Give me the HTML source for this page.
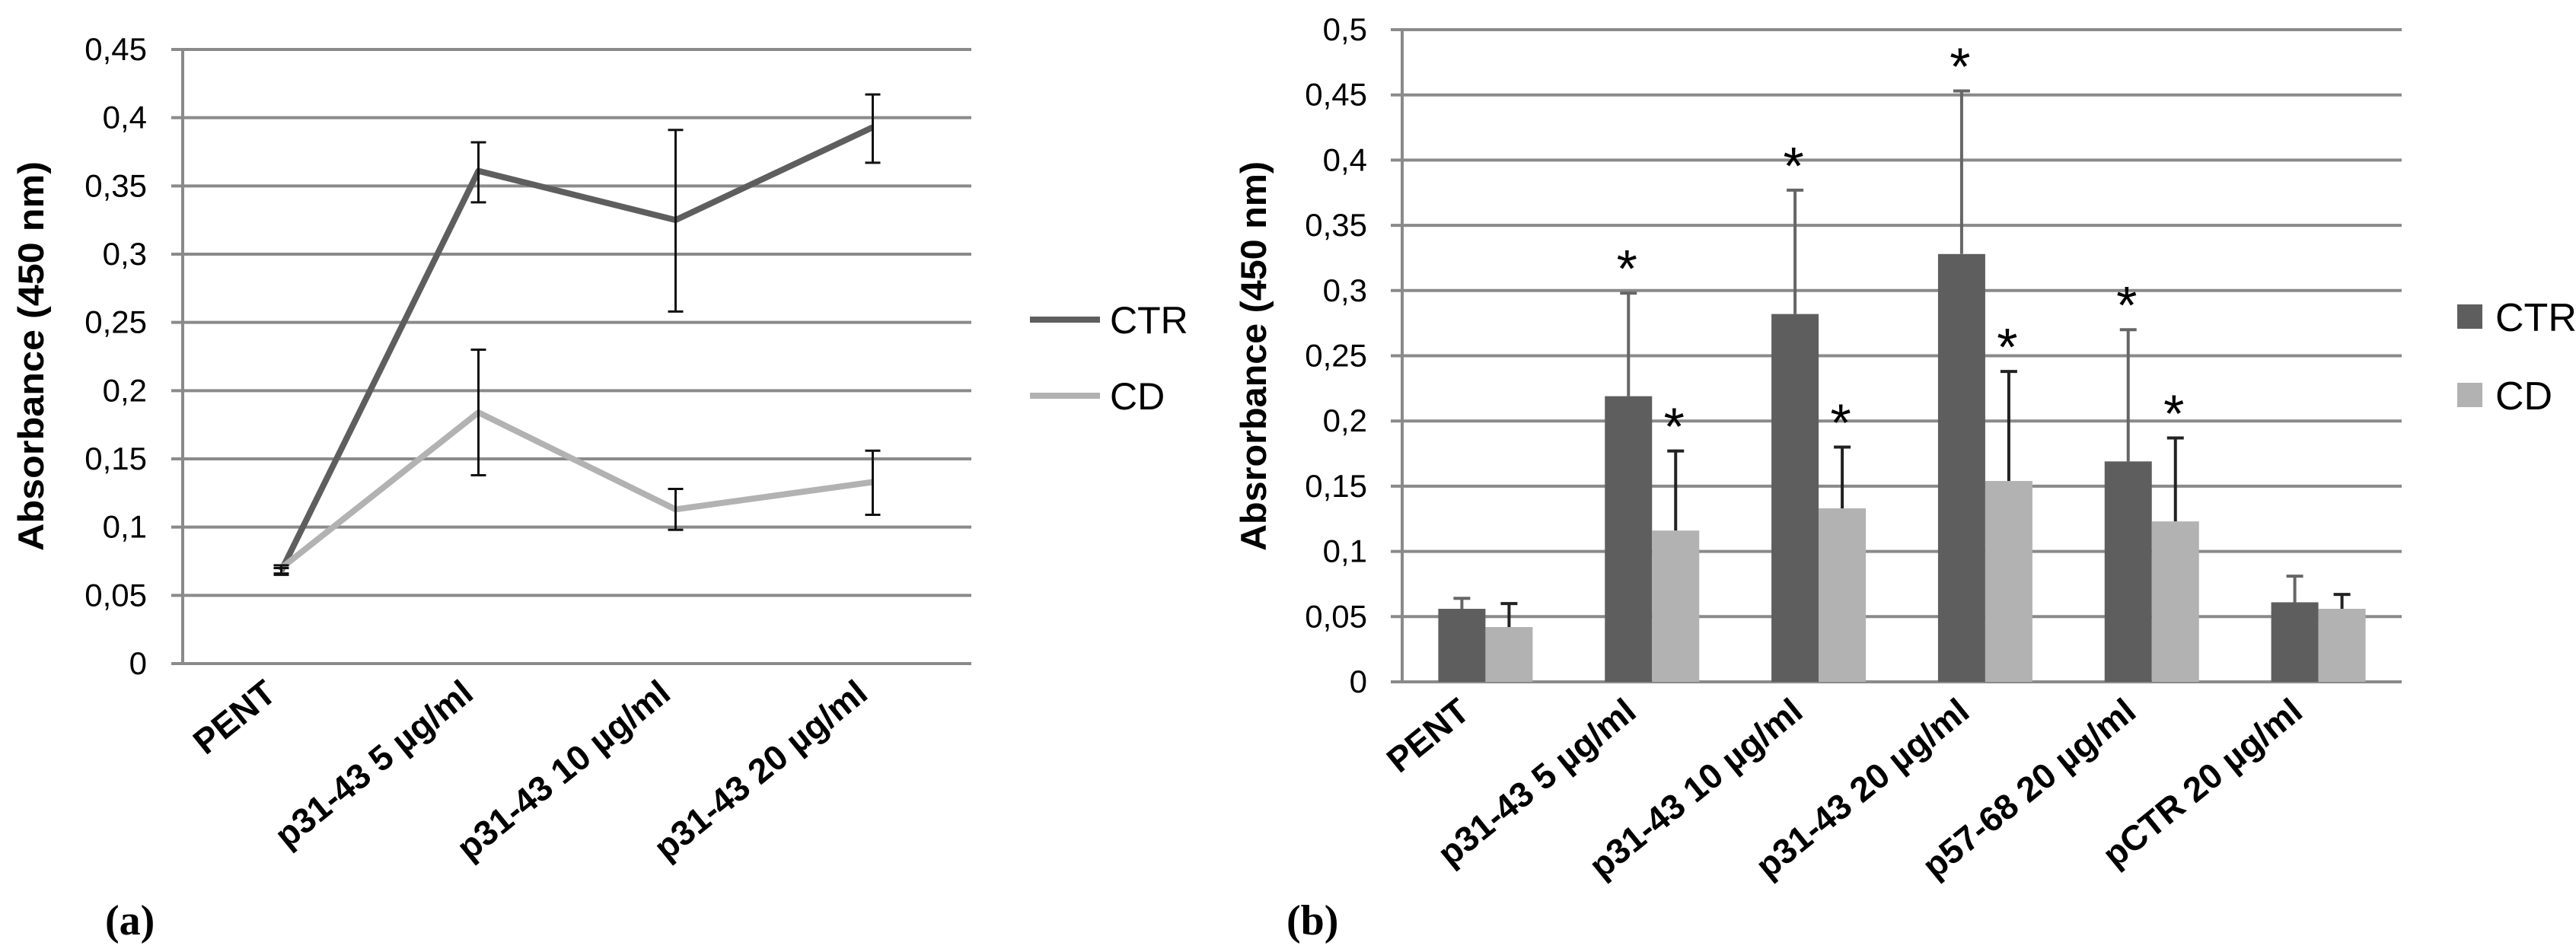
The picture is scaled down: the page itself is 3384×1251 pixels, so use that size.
<!DOCTYPE html>
<html><head><meta charset="utf-8"><style>
html,body{margin:0;padding:0;background:#fff;}
svg{display:block;font-family:"Liberation Sans",sans-serif;}
</style></head><body>
<svg id="s" width="3384" height="1251" viewBox="0 0 3384 1251" xmlns="http://www.w3.org/2000/svg"></svg>
<script>
const catsA = ["PENT","p31-43 5 µg/ml","p31-43 10 µg/ml","p31-43 20 µg/ml"];
const ctrA = [0.068,0.361,0.325,0.393];
const ctrAHi = [0.070,0.382,0.391,0.417];
const ctrALo = [0.065,0.338,0.258,0.367];
const cdA = [0.070,0.184,0.113,0.133];
const cdAHi = [0.072,0.230,0.128,0.156];
const cdALo = [0.066,0.138,0.098,0.109];
const ticksA = ["0","0,05","0,1","0,15","0,2","0,25","0,3","0,35","0,4","0,45"];

const catsB = ["PENT","p31-43 5 µg/ml","p31-43 10 µg/ml","p31-43 20 µg/ml","p57-68 20 µg/ml","pCTR 20 µg/ml"];
const ctrB = [0.056,0.219,0.282,0.328,0.169,0.061];
const ctrBErr = [0.064,0.298,0.377,0.453,0.270,0.081];
const cdB = [0.042,0.116,0.133,0.154,0.123,0.056];
const cdBErr = [0.060,0.177,0.180,0.238,0.187,0.067];
const starCtrB = [false,true,true,true,true,false];
const starCdB = [false,true,true,true,true,false];
const ticksB = ["0","0,05","0,1","0,15","0,2","0,25","0,3","0,35","0,4","0,45","0,5"];

const NS="http://www.w3.org/2000/svg";
const svg=document.getElementById('s');
function mk(tag,attrs,parent,text){const e=document.createElementNS(NS,tag);for(const k in attrs)e.setAttribute(k,attrs[k]);if(text!==undefined)e.textContent=text;(parent||svg).appendChild(e);return e;}
const CTRC="#5e5e5e", CDC="#b2b2b2", GRID="#8a8a8a";

// ---------- Chart A ----------
const A={x0:240,x1:1276,y0:872,y1:65,max:0.45};
const ay=v=>A.y0-(v/A.max)*(A.y0-A.y1);
const ax=i=>A.x0+(i+0.5)*(A.x1-A.x0)/catsA.length;
const gA=mk('g',{});


ticksA.forEach((t,i)=>{
  const v=i*0.05,y=ay(v);
  const l=mk('line',{x1:A.x0-15,x2:A.x1,y1:y,y2:y,stroke:GRID,'stroke-width':4},gA);
  
  
  const tx=mk('text',{x:193,y:y+14,'text-anchor':'end','font-size':42},gA,t);
  
  
});
const axA=mk('line',{x1:A.x0,x2:A.x0,y1:A.y1,y2:A.y0,stroke:GRID,'stroke-width':4},gA);


function lineSeries(vals,col,name){
  const p=mk('polyline',{points:vals.map((v,i)=>ax(i)+','+ay(v)).join(' '),fill:'none',stroke:col,'stroke-width':8,'stroke-linejoin':'round'},gA);
  
  
}
lineSeries(ctrA,CTRC,'ctr-line');
lineSeries(cdA,CDC,'cd-line');
function errA(hi,lo,name){
  hi.forEach((h,i)=>{
    const x=ax(i);
    const g=mk('g',{stroke:'#111','stroke-width':3},gA);
    
    
    mk('line',{x1:x,x2:x,y1:ay(h),y2:ay(lo[i])},g);
    mk('line',{x1:x-10,x2:x+10,y1:ay(h),y2:ay(h)},g);
    mk('line',{x1:x-10,x2:x+10,y1:ay(lo[i]),y2:ay(lo[i])},g);
  });
}
errA(ctrAHi,ctrALo,'ctr-error-bar');
errA(cdAHi,cdALo,'cd-error-bar');
catsA.forEach((c,i)=>{
  const x=ax(i)-4,y=A.y0+44;
  const t=mk('text',{x:x,y:y,'text-anchor':'end','font-size':46,'font-weight':'bold',transform:`rotate(-39 ${x} ${y})`},gA,c);
  
  
});
const ytA=mk('text',{x:0,y:0,'text-anchor':'middle','font-size':47,'font-weight':'bold',textLength:512,lengthAdjust:'spacingAndGlyphs',transform:'translate(57 468) rotate(-90)'},gA,'Absorbance (450 nm)');


const lgA=mk('g',{},gA);


mk('line',{x1:1353,x2:1445,y1:420,y2:420,stroke:CTRC,'stroke-width':8},lgA);
mk('text',{x:1458,y:438,'font-size':50},lgA,'CTR');
mk('line',{x1:1353,x2:1445,y1:520,y2:520,stroke:CDC,'stroke-width':8},lgA);
mk('text',{x:1458,y:538,'font-size':50},lgA,'CD');
const la=mk('text',{x:138,y:1228,'font-size':56,'font-weight':'bold','font-family':'Liberation Serif, serif'},gA,'(a)');



// ---------- Chart B ----------
const B={x0:1842,x1:3155,y0:896,y1:39,max:0.5};
const by=v=>B.y0-(v/B.max)*(B.y0-B.y1);
const cw=(B.x1-B.x0)/catsB.length;
const bc=i=>B.x0+(i+0.5)*cw;
const bw=62;
const gB=mk('g',{});


ticksB.forEach((t,i)=>{
  const y=by(i*0.05);
  const l=mk('line',{x1:B.x0-15,x2:B.x1,y1:y,y2:y,stroke:GRID,'stroke-width':4},gB);
  
  
  const tx=mk('text',{x:1796,y:y+14,'text-anchor':'end','font-size':42},gB,t);
  
  
});
const axB=mk('line',{x1:B.x0,x2:B.x0,y1:B.y1,y2:B.y0,stroke:GRID,'stroke-width':4},gB);


function bars(vals,errs,stars,col,off,name,ecol){
  vals.forEach((v,i)=>{
    const x=bc(i)+off;
    const r=mk('rect',{x:x,y:by(v),width:bw,height:B.y0-by(v),fill:col},gB);
    
    
    const cx=x+bw/2;
    const e=mk('g',{stroke:ecol,'stroke-width':4},gB);
    
    
    mk('line',{x1:cx,x2:cx,y1:by(errs[i]),y2:by(v)},e);
    mk('line',{x1:cx-11,x2:cx+11,y1:by(errs[i]),y2:by(errs[i])},e);
    if(stars[i]){
      const s=mk('text',{x:cx-2,y:by(errs[i])-8,'text-anchor':'middle','font-size':70},gB,'*');
      
      
    }
  });
}
bars(ctrB,ctrBErr,starCtrB,CTRC,-bw,'ctr','#666');
bars(cdB,cdBErr,starCdB,CDC,0,'cd','#222');
catsB.forEach((c,i)=>{
  const x=bc(i)-18,y=B.y0+44;
  const t=mk('text',{x:x,y:y,'text-anchor':'end','font-size':46,'font-weight':'bold',transform:`rotate(-39 ${x} ${y})`},gB,c);
  
  
});
const ytB=mk('text',{x:0,y:0,'text-anchor':'middle','font-size':47,'font-weight':'bold',textLength:512,lengthAdjust:'spacingAndGlyphs',transform:'translate(1663 468) rotate(-90)'},gB,'Absrorbance (450 nm)');


const lgB=mk('g',{},gB);


mk('rect',{x:3228,y:400,width:33,height:32,fill:CTRC},lgB);
mk('text',{x:3278,y:435,'font-size':52},lgB,'CTR');
mk('rect',{x:3228,y:503,width:33,height:32,fill:CDC},lgB);
mk('text',{x:3278,y:538,'font-size':52},lgB,'CD');
const lb=mk('text',{x:1690,y:1228,'font-size':56,'font-weight':'bold','font-family':'Liberation Serif, serif'},gB,'(b)');


</script>
</body></html>
